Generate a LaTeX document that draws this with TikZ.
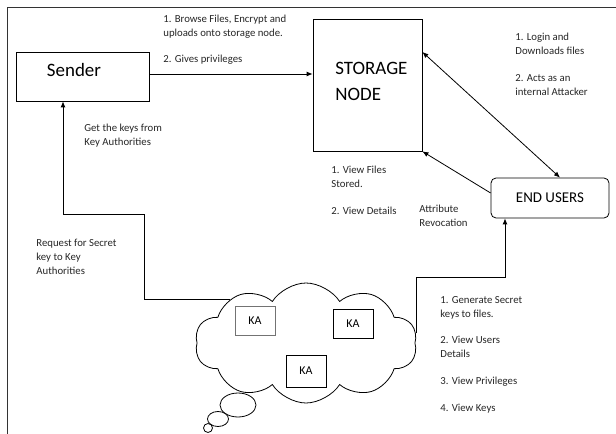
\documentclass[tikz,border=0pt]{standalone}
\usepackage{fontspec}
\setmainfont{Carlito}
\usetikzlibrary{shapes.symbols,arrows.meta,calc}
\begin{document}
\begin{tikzpicture}[x=1bp,y=-1bp, line width=0.8bp,
  arr/.style={-{Latex[length=6bp,width=5bp]}},
  darr/.style={{Latex[length=6bp,width=5bp]}-{Latex[length=6bp,width=5bp]}},
  lbl/.style={anchor=north west, inner sep=0pt, align=left, font=\fontsize{10.8}{13.7}\selectfont, text=black!85},
  kabox/.style={draw, minimum width=40bp, minimum height=29bp, inner sep=0pt, font=\fontsize{12}{14}\selectfont},
  bigtxt/.style={inner sep=0pt, align=left, font=\fontsize{19}{26}\selectfont}]
\useasboundingbox (0,0) rectangle (616,434);
\draw[black!80] (616,7) -- (7,7) -- (7,434);

% main boxes
\node[draw, minimum width=133bp, minimum height=49bp, inner sep=0pt] (sender) at (82.5,76.5) {};
\node[bigtxt, anchor=center] (sendertxt) at (74,70) {Sender};
\node[draw, minimum width=109bp, minimum height=132bp, inner sep=0pt] (storage) at (367.5,85) {};
\node[bigtxt, anchor=west] (storagetxt) at (335,81) {STORAGE\\NODE};
\node[draw, rounded corners=5bp, minimum width=118bp, minimum height=40bp, inner sep=0pt,
      font=\fontsize{15}{18}\selectfont] (endusers) at (550,198) {END USERS};

% cloud of key authorities
\node[cloud, draw, cloud puffs=10, cloud puff arc=115, cloud ignores aspect,
      minimum width=222bp, minimum height=120bp] (kacloud) at (306,343) {};
\draw[fill=white] (238,405) ellipse [x radius=18bp, y radius=12bp];
\draw[fill=white] (218,419) ellipse [x radius=10.5bp, y radius=7.5bp];
\draw[fill=white] (208,428) ellipse [x radius=4.5bp, y radius=4.5bp];
\node[kabox, draw=black!55] (ka1) at (255,321) {KA};
\node[kabox] (ka2) at (353,324) {KA};
\node[kabox, minimum height=32bp] (ka3) at (306,371) {KA};

% connectors
\draw[arr] (sender.east |- 0,74) -- (storage.west |- 0,74);
\draw[darr] (storage.east |- 0,52) -- (endusers.north -| 560,0);
\draw[arr] (endusers.west |- 0,193) -- (storage.south east);
\draw[arr] (kacloud.150) -| (144,214) -| (sender.south -| 63,0);
\draw[arr] (kacloud.5) -- (kacloud.5 |- 0,277) -| (endusers.south -| 505,0);

% labels
\node[lbl] (lbrowse) at (163,15) {1. Browse Files, Encrypt and\\uploads onto storage node.\\[12pt]2. Gives privileges};
\node[lbl] (lgetkeys) at (84,124) {Get the keys from\\Key Authorities};
\node[lbl] (lrequest) at (36,239) {Request for Secret\\key to Key\\Authorities};
\node[lbl] (llogin) at (515,33) {1. Login and\\Downloads files\\[13.3pt]2. Acts as an\\internal Attacker};
\node[lbl] (lview) at (331,166) {1. View Files\\Stored.\\[13.3pt]2. View Details};
\node[lbl] (lattr) at (419,205) {Attribute\\Revocation};
\node[lbl] (lgen) at (440,296) {1. Generate Secret\\keys to files.\\[13.3pt]2. View Users\\Details\\[13.3pt]3. View Privileges\\[13.3pt]4. View Keys};
\end{tikzpicture}
\end{document}
